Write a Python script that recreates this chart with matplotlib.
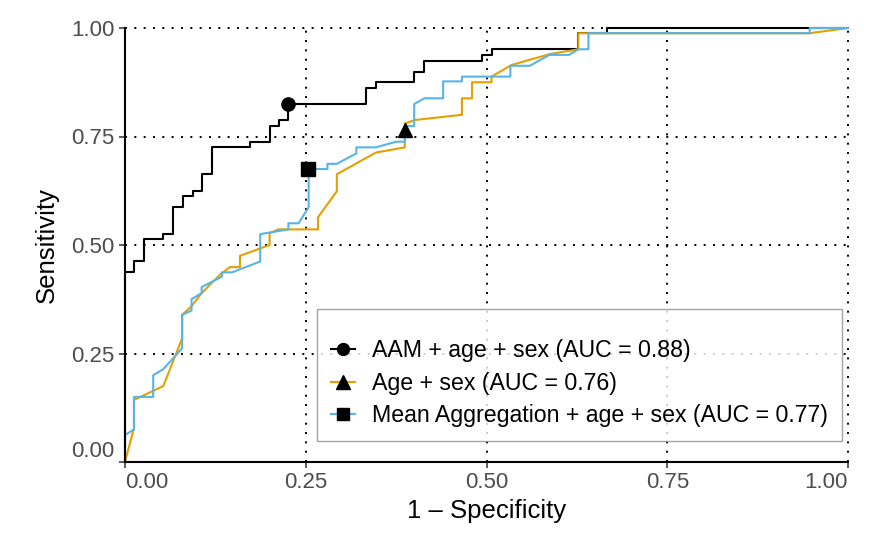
import matplotlib
matplotlib.use("Agg")
import matplotlib.pyplot as plt
from matplotlib.lines import Line2D

plt.rcParams['font.family'] = ['Liberation Sans', 'DejaVu Sans']

# ROC vertices (1 - specificity, sensitivity)
aam_fpr = [0, 0, 0.0124, 0.0124, 0.026, 0.026, 0.053, 0.053, 0.067, 0.067, 0.080, 0.080,
           0.094, 0.094, 0.106, 0.106, 0.120, 0.120, 0.173, 0.173, 0.200, 0.200, 0.213, 0.213,
           0.226, 0.226, 0.333, 0.333, 0.347, 0.347, 0.400, 0.400, 0.414, 0.414, 0.494, 0.494,
           0.507, 0.507, 0.627, 0.627, 0.666, 0.666, 1.0]
aam_tpr = [0, 0.438, 0.438, 0.464, 0.464, 0.513, 0.513, 0.525, 0.525, 0.587, 0.587, 0.613,
           0.613, 0.625, 0.625, 0.663, 0.663, 0.726, 0.726, 0.737, 0.737, 0.775, 0.775, 0.788,
           0.788, 0.825, 0.825, 0.862, 0.862, 0.876, 0.876, 0.899, 0.899, 0.925, 0.925, 0.938,
           0.938, 0.951, 0.951, 0.988, 0.988, 1.0, 1.0]

age_fpr = [0, 0.0124, 0.0124, 0.053, 0.079, 0.079, 0.092, 0.106, 0.131, 0.145, 0.159, 0.159,
           0.200, 0.200, 0.212, 0.267, 0.267, 0.293, 0.293, 0.347, 0.387, 0.387, 0.401, 0.466,
           0.466, 0.480, 0.480, 0.507, 0.507, 0.535, 0.588, 0.627, 0.627, 0.947, 1.0]
age_tpr = [0, 0.078, 0.143, 0.175, 0.285, 0.339, 0.359, 0.389, 0.431, 0.449, 0.449, 0.475,
           0.500, 0.527, 0.536, 0.536, 0.564, 0.624, 0.663, 0.713, 0.725, 0.780, 0.788, 0.800,
           0.838, 0.838, 0.875, 0.875, 0.888, 0.915, 0.940, 0.951, 0.988, 0.988, 1.0]

mean_fpr = [0, 0, 0.0124, 0.0124, 0.039, 0.039, 0.053, 0.079, 0.079, 0.092, 0.092, 0.106,
            0.106, 0.134, 0.134, 0.148, 0.187, 0.187, 0.226, 0.226, 0.240, 0.254, 0.254, 0.280,
            0.280, 0.293, 0.320, 0.320, 0.347, 0.375, 0.387, 0.387, 0.400, 0.400, 0.414, 0.440,
            0.440, 0.466, 0.466, 0.533, 0.533, 0.560, 0.587, 0.614, 0.627, 0.641, 0.641, 0.947,
            0.947, 1.0]
mean_tpr = [0, 0.062, 0.075, 0.150, 0.150, 0.200, 0.214, 0.262, 0.339, 0.349, 0.375, 0.389,
            0.403, 0.427, 0.437, 0.437, 0.462, 0.525, 0.536, 0.550, 0.550, 0.587, 0.675, 0.675,
            0.687, 0.687, 0.711, 0.725, 0.725, 0.738, 0.738, 0.774, 0.774, 0.825, 0.838, 0.838,
            0.877, 0.877, 0.888, 0.888, 0.913, 0.913, 0.938, 0.938, 0.951, 0.951, 0.988, 0.988,
            1.0, 1.0]

# best-threshold points
best_fpr = [0.226, 0.387, 0.253]
best_tpr = [0.825, 0.765, 0.675]

labels = ["AAM + age + sex (AUC = 0.88)",
          "Age + sex (AUC = 0.76)",
          "Mean Aggregation + age + sex (AUC = 0.77)"]
colors = ["#000000", "#E69F00", "#56B4E9"]
markers = ["o", "^", "s"]
msizes = [9.5, 10.5, 10]

ticks = [0, 0.25, 0.5, 0.75, 1.0]
tick_labels = ["0.00", "0.25", "0.50", "0.75", "1.00"]

fig = plt.figure(figsize=(8.8, 5.34), dpi=100)
ax = fig.add_axes([125 / 880, 1 - 462 / 534, 723 / 880, 434 / 534])

for v in ticks[1:]:
    ax.axhline(v, color="black", lw=1.4, ls=(0, (1, 3.8)), zorder=1, clip_on=False)
    ax.axvline(v, color="black", lw=1.4, ls=(0, (1, 3.8)), zorder=1, clip_on=False)

curves = [(aam_fpr, aam_tpr), (age_fpr, age_tpr), (mean_fpr, mean_tpr)]
for (fx, fy), c in zip(curves, colors):
    ax.plot(fx, fy, color=c, lw=1.5, zorder=3, clip_on=False)

for i in range(3):
    ax.plot(best_fpr[i], best_tpr[i], marker=markers[i], color="black",
            ms=msizes[i], ls="none", zorder=5, clip_on=False)

ax.set_xlim(0, 1)
ax.set_ylim(0, 1)
for s in ["top", "right"]:
    ax.spines[s].set_visible(False)
for s in ["left", "bottom"]:
    ax.spines[s].set_linewidth(1.5)
    ax.spines[s].set_zorder(4)

ax.set_xticks(ticks)
ax.set_yticks(ticks)
ax.set_xticklabels(tick_labels)
ax.set_yticklabels(tick_labels)
ax.tick_params(axis="both", length=4.5, width=1.1, colors="#333333",
               labelcolor="#4D4D4D", labelsize=16, pad=3)
xl = ax.get_xticklabels()
xl[0].set_horizontalalignment("left")
xl[-1].set_horizontalalignment("right")
yl = ax.get_yticklabels()
yl[0].set_verticalalignment("bottom")

ax.set_xlabel("1 \u2013 Specificity", fontsize=18.5, labelpad=4)
ax.set_ylabel("Sensitivity", fontsize=18.5, labelpad=9)

handles = [Line2D([], [], color=c, lw=1.5, marker=m, ms=ms * 0.9,
                  markerfacecolor="black", markeredgecolor="black")
           for c, m, ms in zip(colors, markers, msizes)]
leg = ax.legend(handles, labels, loc="lower right", bbox_to_anchor=(0.992, 0.048),
                fontsize=16.7, title=" ", title_fontsize=6, frameon=True, fancybox=False,
                handlelength=1.05, handletextpad=0.75, labelspacing=0.41,
                borderpad=0.6, borderaxespad=0)
leg.get_frame().set_edgecolor("#8c8c8c")
leg.get_frame().set_linewidth(1.0)
leg.set_zorder(6)

fig.savefig("out.png", dpi=100)
